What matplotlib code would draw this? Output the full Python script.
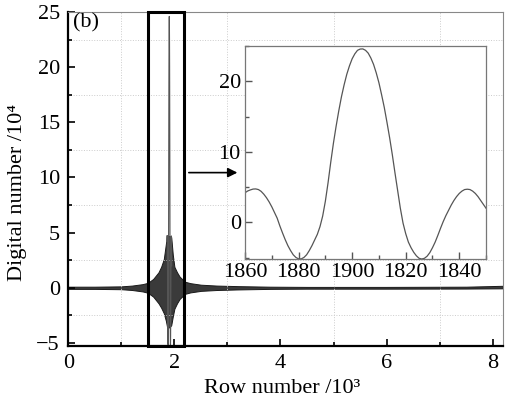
import matplotlib
matplotlib.use('Agg')
import matplotlib.pyplot as plt
import numpy as np
from matplotlib.patches import Rectangle
from matplotlib.ticker import MultipleLocator

# envelope of the dense interferogram (row number / 10^3, digital number / 10^4)
env_x = [0.0, 0.5, 1.0, 1.2, 1.4, 1.5, 1.6, 1.7, 1.75, 1.8, 1.84, 1.86,
         1.9, 1.94, 1.97, 2.0, 2.05, 2.1, 2.2, 2.3, 2.5, 2.8, 3.2, 3.8,
         4.5, 6.0, 7.5, 8.19]
env_upper = [0.1, 0.1, 0.13, 0.2, 0.33, 0.45, 0.8, 1.4, 1.9, 2.6, 4.0, 4.7,
             4.7, 4.6, 3.0, 1.9, 1.4, 1.0, 0.55, 0.42, 0.28, 0.2, 0.15, 0.1,
             0.08, 0.08, 0.1, 0.18]
env_lower = [-0.1, -0.1, -0.13, -0.2, -0.33, -0.45, -0.8, -1.4, -1.8, -2.3, -3.0, -3.5,
             -3.6, -3.4, -2.6, -1.9, -1.4, -1.0, -0.55, -0.42, -0.28, -0.2, -0.15, -0.1,
             -0.08, -0.08, -0.07, -0.05]

# zoomed central peak (row number, digital number / 10^4)
zoom_rows = list(range(1860, 1951))
zoom_values = [4.2, 4.45, 4.6, 4.72, 4.74, 4.65, 4.4, 4.0, 3.5, 2.9,
               2.2, 1.4, 0.6, -0.5, -1.5, -2.45, -3.3, -4.0, -4.6, -4.98,
               -5.18, -5.18, -4.98, -4.6, -4.0, -3.3, -2.5, -1.7, -0.6, 0.9,
               3.0, 5.6, 8.5, 11.2, 13.6, 15.8, 17.8, 19.5, 21.0, 22.2,
               23.2, 23.9, 24.4, 24.58, 24.6, 24.4, 24.0, 23.3, 22.4, 21.2,
               19.8, 18.1, 16.3, 14.2, 12.0, 9.6, 7.0, 4.5, 2.0, -0.1,
               -1.6, -2.8, -3.6, -4.25, -4.75, -5.1, -5.2, -5.1, -4.8, -4.3,
               -3.6, -2.8, -1.85, -0.85, 0.1, 0.95, 1.7, 2.45, 3.1, 3.65,
               4.1, 4.43, 4.65, 4.7, 4.65, 4.43, 4.1, 3.65, 3.1, 2.55,
               2.0]
zoom_tick_pos = [1860, 1880, 1900, 1920, 1940]
zoom_tick_labels = ['1860', '1880', '1900', '1820', '1840']

plt.rcParams['font.family'] = ['Liberation Serif', 'DejaVu Serif']
plt.rcParams['font.size'] = 16

fig = plt.figure(figsize=(5.14, 4.04), dpi=100)
ax = fig.add_axes([0.1329, 0.1443, 0.8451, 0.826])

ax.fill_between(env_x, env_lower, env_upper, facecolor='#3a3a3a',
                edgecolor='#1a1a1a', lw=0.7)
ax.plot(np.array(zoom_rows) / 1000.0, zoom_values, color='#555555', lw=0.8)

ax.set_xlim(0, 8.19)
ax.set_ylim(-5.25, 25)
ax.xaxis.set_major_locator(MultipleLocator(2))
ax.xaxis.set_minor_locator(MultipleLocator(1))
ax.yaxis.set_major_locator(MultipleLocator(5))
ax.yaxis.set_minor_locator(MultipleLocator(2.5))
ax.tick_params(which='both', direction='in', top=False, right=False, width=1.2)
ax.tick_params(which='major', length=5, pad=6)
ax.tick_params(which='minor', length=3)
ax.grid(which='minor', linestyle=':', color='#cccccc', lw=0.7)
for side in ['left', 'bottom']:
    ax.spines[side].set_linewidth(1.6)
    ax.spines[side].set_color('black')
for side in ['top', 'right']:
    ax.spines[side].set_linewidth(0.8)
    ax.spines[side].set_color('#888888')

ax.set_xlabel('Row number /10\u00b3')
ax.set_ylabel('Digital number /10\u2074')
ax.xaxis.set_label_coords(0.491, -0.1)
ax.yaxis.set_label_coords(-0.095, 0.46)

ax.text(0.01, 0.995, '(b)', transform=ax.transAxes, ha='left', va='top')

ax.add_patch(Rectangle((1.508, -5.25), 0.672, 30.25, fill=False, lw=2.2,
                       ec='black', clip_on=False, zorder=5))
ax.annotate('', xy=(3.24, 10.44), xytext=(2.22, 10.44),
            arrowprops=dict(arrowstyle='-|>', color='black', lw=1.2,
                            mutation_scale=14))

ins = fig.add_axes([0.4767, 0.3589, 0.4689, 0.527])
ins.set_facecolor('white')
ins.plot(zoom_rows, zoom_values, color='#555555', lw=0.9)
ins.set_xlim(1860, 1950)
ins.set_ylim(-5.2, 25)
ins.set_xticks(zoom_tick_pos)
ins.set_xticklabels(zoom_tick_labels)
ins.xaxis.set_minor_locator(MultipleLocator(10))
ins.yaxis.set_major_locator(MultipleLocator(10))
ins.yaxis.set_minor_locator(MultipleLocator(5))
ins.tick_params(which='both', direction='in', top=False, right=False,
                color='#555555', width=1.0)
ins.tick_params(which='major', length=5, pad=3)
ins.tick_params(which='minor', length=3)
for side in ins.spines:
    ins.spines[side].set_linewidth(0.9)
    ins.spines[side].set_color('#777777')

fig.savefig('out.png', dpi=100)
